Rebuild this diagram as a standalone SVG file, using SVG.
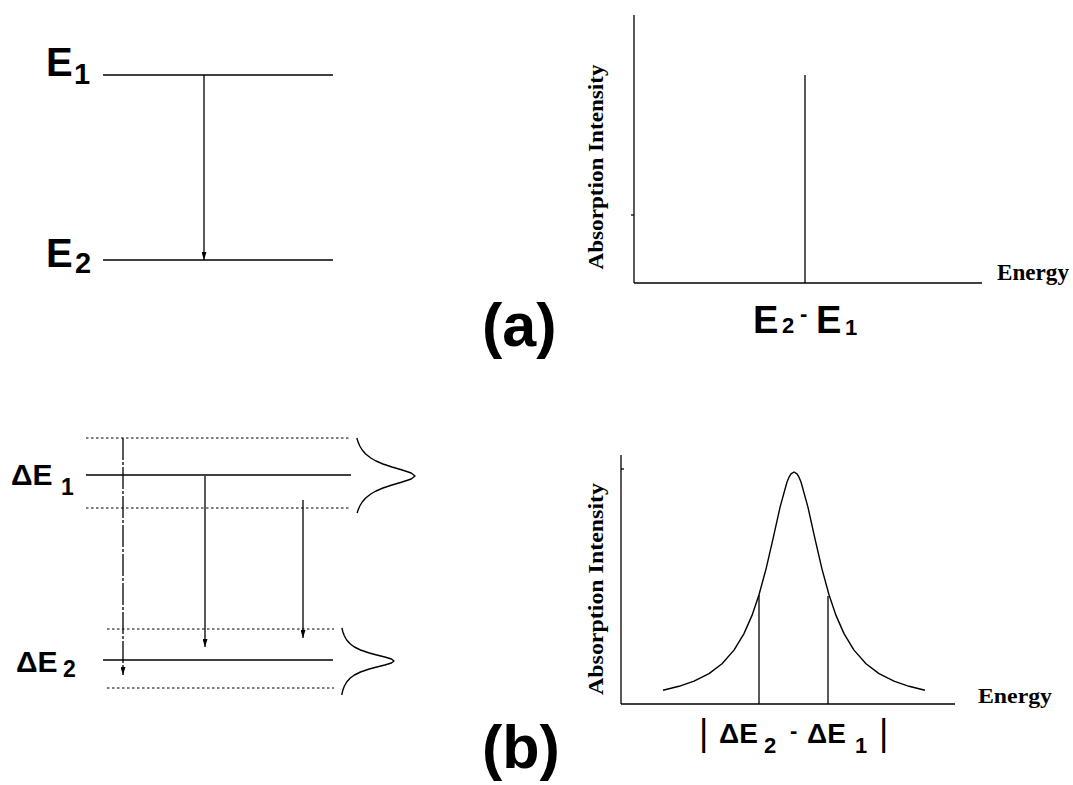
<svg xmlns="http://www.w3.org/2000/svg" width="1073" height="785" viewBox="0 0 1073 785">
<style>
.ln{stroke:#000;stroke-width:1.3;fill:none}
.dot{stroke:#000;stroke-width:1.2;fill:none;stroke-dasharray:2.5 2.5}
.crv{stroke:#000;stroke-width:1.4;fill:none;stroke-linejoin:round}
.sym{font-family:"Liberation Sans",Arial,sans-serif;font-weight:bold;fill:#000}
.bar{font-family:"Liberation Sans",Arial,sans-serif;font-weight:normal;fill:#000}
.ax{font-family:"Liberation Serif","Times New Roman",serif;font-weight:bold;fill:#000}
</style>
<defs>
<marker id="ah" viewBox="0 0 8 5" refX="8" refY="2.5" markerWidth="8" markerHeight="5" orient="auto" markerUnits="userSpaceOnUse">
<path d="M0,0 L8,2.5 L0,5 z" fill="#000"/>
</marker>
</defs>
<rect width="1073" height="785" fill="#fff"/>

<!-- (a) energy levels -->
<g id="level-E1">
<line class="ln" x1="103" y1="75" x2="333" y2="75"/>
<text class="sym" x="46" y="76" font-size="40">E</text>
<text class="sym" x="74" y="84" font-size="29">1</text>
</g>
<g id="level-E2">
<line class="ln" x1="103" y1="260" x2="333" y2="260"/>
<text class="sym" x="46" y="267" font-size="40">E</text>
<text class="sym" x="75" y="273" font-size="29">2</text>
</g>

<!-- (a) spectrum -->
<g id="spectrum-a">
<line class="ln" x1="634" y1="15" x2="634" y2="283"/>
<line class="ln" x1="634" y1="283" x2="982" y2="283"/>
<line class="ln" x1="631" y1="215" x2="634" y2="215"/>
<line class="ln" x1="805" y1="75" x2="805" y2="283"/>
<text class="ax" font-size="21" textLength="205" lengthAdjust="spacingAndGlyphs" text-anchor="middle" transform="translate(603,167) rotate(-90)">Absorption Intensity</text>
<text class="ax" x="997" y="280" font-size="23" textLength="72" lengthAdjust="spacingAndGlyphs">Energy</text>
<text class="sym" x="753" y="333" font-size="38">E</text>
<text class="sym" x="782" y="333" font-size="22">2</text>
<text class="sym" x="800" y="321" font-size="22">-</text>
<text class="sym" x="816" y="333" font-size="38">E</text>
<text class="sym" x="845" y="335" font-size="22">1</text>
</g>
<g id="label-a"><text class="sym" x="482" y="346" font-size="61">(a)</text></g>

<!-- (b) energy levels -->
<g id="level-dE1">
<line class="dot" x1="86" y1="438" x2="350" y2="438"/>
<line class="ln" x1="86" y1="475" x2="351" y2="475"/>
<line class="dot" x1="86" y1="508" x2="350" y2="508"/>
<polyline class="crv" points="356.8,438 358.1,442 359.8,446 362.2,450 365.7,454 370.7,458 376,461 383,464 392,467 402.2,470 411.2,473 415,476 411.2,479 402.2,482 392,485 383,488 376,491 370.7,494 365.7,498 362.2,502 359.8,506 358.1,510 357.1,513"/>
<text class="sym" x="11" y="485" font-size="30">ΔE</text>
<text class="sym" x="61" y="495" font-size="23">1</text>
</g>
<g id="level-dE2">
<line class="dot" x1="107" y1="629" x2="334" y2="629"/>
<line class="ln" x1="103" y1="660" x2="333" y2="660"/>
<line class="dot" x1="107" y1="688" x2="334" y2="688"/>
<polyline class="crv" points="341.9,628 342.9,632 344.4,636 346.7,640 350.3,644 354.4,647 360.5,650 369.3,653 376.8,655 384.8,657 391.4,659 394,661 391.4,663 384.8,665 376.8,667 369.3,669 360.5,672 354.4,675 350.3,678 346.7,682 344.4,686 342.9,690 341.7,695"/>
<text class="sym" x="16" y="672" font-size="30">ΔE</text>
<text class="sym" x="63" y="677" font-size="23">2</text>
</g>

<!-- (b) spectrum -->
<g id="spectrum-b">
<line class="ln" x1="621" y1="455" x2="621" y2="704"/>
<line class="ln" x1="621" y1="704" x2="955" y2="704"/>
<line class="ln" x1="621" y1="469" x2="624" y2="469"/>
<polyline class="crv" points="663,690.2 679,686.3 694,681.2 709,673.6 722,663.7 734,650.1 744,633.6 752,615.4 759,594.8 766,569.1 773,538.9 780,507.4 787,482 789,477.2 791,473.9 794,472 797,473.9 799,477.2 801,482 808,507.4 815,538.9 822,569.1 829,594.8 836,615.4 844,633.6 854,650.1 866,663.7 879,673.6 894,681.2 909,686.3 925,690.2"/>
<line class="ln" x1="759" y1="595" x2="759" y2="704"/>
<line class="ln" x1="828" y1="596" x2="828" y2="704"/>
<text class="ax" font-size="21" textLength="212" lengthAdjust="spacingAndGlyphs" text-anchor="middle" transform="translate(603,589) rotate(-90)">Absorption Intensity</text>
<text class="ax" x="978" y="703" font-size="21" textLength="74" lengthAdjust="spacingAndGlyphs">Energy</text>
<text class="bar" x="699" y="745" font-size="36">|</text>
<text class="sym" x="719" y="743" font-size="28">ΔE</text>
<text class="sym" x="764" y="753" font-size="22">2</text>
<text class="sym" x="790" y="738" font-size="22">-</text>
<text class="sym" x="807" y="743" font-size="28">ΔE</text>
<text class="sym" x="855" y="753" font-size="22">1</text>
<text class="bar" x="879" y="745" font-size="36">|</text>
</g>
<g id="label-b"><text class="sym" x="482" y="768" font-size="61">(b)</text></g>

<!-- transitions -->
<g id="connectors">
<line class="ln" x1="204" y1="75" x2="204" y2="260" marker-end="url(#ah)"/>
<line class="ln" x1="123" y1="438" x2="123" y2="675" stroke-dasharray="22 2 3 2" marker-end="url(#ah)"/>
<line class="ln" x1="205" y1="476" x2="205" y2="647" marker-end="url(#ah)"/>
<line class="ln" x1="303" y1="500" x2="303" y2="638" marker-end="url(#ah)"/>
</g>
</svg>
